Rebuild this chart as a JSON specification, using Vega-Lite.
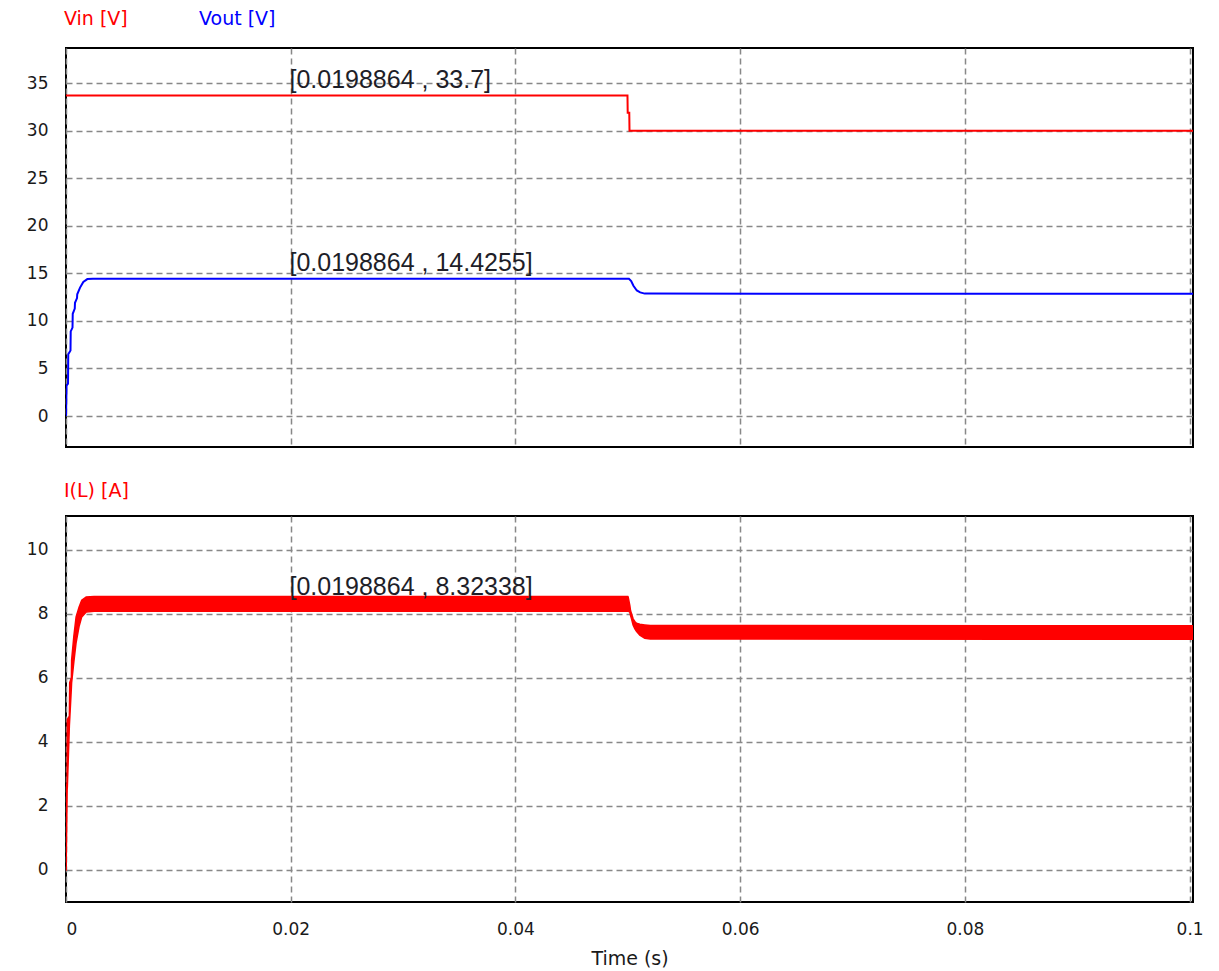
{
  "$schema": "https://vega.github.io/schema/vega-lite/v6.json",
  "background": "white",
  "padding": {"left": 25, "top": 8, "right": 10, "bottom": 5},
  "spacing": 32,
  "config": {
    "view": {"stroke": "#000000", "strokeWidth": 2},
    "font": "DejaVu Sans",
    "axis": {
      "domain": false,
      "ticks": false,
      "grid": true,
      "gridColor": "#888888",
      "gridDash": [6, 4],
      "gridWidth": 1.5,
      "labelFont": "DejaVu Sans",
      "labelFontSize": 17,
      "labelColor": "#1a1a1a",
      "titleFont": "DejaVu Sans",
      "titleFontSize": 19,
      "titleFontWeight": "normal",
      "titleColor": "#1a1a1a"
    },
    "legend": {
      "orient": "top",
      "direction": "horizontal",
      "title": null,
      "symbolOpacity": 0,
      "symbolSize": 0,
      "symbolStrokeWidth": 0,
      "labelFont": "DejaVu Sans",
      "labelFontSize": 19,
      "labelOffset": -21,
      "columnPadding": 71,
      "offset": 19,
      "padding": 0,
      "labelColor": {"expr": "datum.label == 'Vout [V]' ? '#0000ff' : '#ff0000'"}
    }
  },
  "resolve": {"scale": {"color": "independent", "y": "independent"}, "legend": {"color": "independent"}},
  "vconcat": [
    {
      "width": 1127,
      "height": 399,
      "layer": [
        {
          "data": {
            "values": [
              {"s": "Vin [V]", "t": 0, "v": 33.7},
              {"s": "Vin [V]", "t": 0.04997, "v": 33.7},
              {"s": "Vin [V]", "t": 0.04999, "v": 31.9},
              {"s": "Vin [V]", "t": 0.05013, "v": 31.9},
              {"s": "Vin [V]", "t": 0.05015, "v": 30.0},
              {"s": "Vin [V]", "t": 0.1003, "v": 30.0},
              {"s": "Vout [V]", "t": 0, "v": 0},
              {"s": "Vout [V]", "t": 0.00005, "v": 3.2},
              {"s": "Vout [V]", "t": 0.00018, "v": 3.4},
              {"s": "Vout [V]", "t": 0.0002, "v": 6.5},
              {"s": "Vout [V]", "t": 0.0004, "v": 6.9},
              {"s": "Vout [V]", "t": 0.00042, "v": 8.9},
              {"s": "Vout [V]", "t": 0.00058, "v": 9.3},
              {"s": "Vout [V]", "t": 0.0006, "v": 10.75},
              {"s": "Vout [V]", "t": 0.00078, "v": 11.3},
              {"s": "Vout [V]", "t": 0.0008, "v": 11.9},
              {"s": "Vout [V]", "t": 0.00098, "v": 12.4},
              {"s": "Vout [V]", "t": 0.001, "v": 12.8},
              {"s": "Vout [V]", "t": 0.00125, "v": 13.5},
              {"s": "Vout [V]", "t": 0.00154, "v": 14.1},
              {"s": "Vout [V]", "t": 0.0019, "v": 14.4},
              {"s": "Vout [V]", "t": 0.0024, "v": 14.43},
              {"s": "Vout [V]", "t": 0.0501, "v": 14.43},
              {"s": "Vout [V]", "t": 0.0503, "v": 14.2},
              {"s": "Vout [V]", "t": 0.0505, "v": 13.7},
              {"s": "Vout [V]", "t": 0.0508, "v": 13.2},
              {"s": "Vout [V]", "t": 0.0511, "v": 13.0},
              {"s": "Vout [V]", "t": 0.0515, "v": 12.87},
              {"s": "Vout [V]", "t": 0.1003, "v": 12.85}
            ]
          },
          "mark": {"type": "line", "strokeWidth": 2, "clip": true},
          "encoding": {
            "x": {
              "field": "t", "type": "quantitative",
              "scale": {"domain": [0, 0.1003], "nice": false, "zero": false},
              "axis": {"values": [0, 0.02, 0.04, 0.06, 0.08, 0.1], "labels": false, "title": null}
            },
            "y": {
              "field": "v", "type": "quantitative",
              "scale": {"domain": [-3.26, 38.7], "nice": false, "zero": false},
              "axis": {"values": [0, 5, 10, 15, 20, 25, 30, 35], "title": null, "labelPadding": 18}
            },
            "color": {
              "field": "s", "type": "nominal",
              "scale": {"domain": ["Vin [V]", "Vout [V]"], "range": ["#ff0000", "#0000ff"]}
            }
          }
        },
        {
          "data": {
            "values": [
              {"t": 0.0198864, "v": 33.7, "label": "[0.0198864 , 33.7]"},
              {"t": 0.0198864, "v": 14.4255, "label": "[0.0198864 , 14.4255]"}
            ]
          },
          "mark": {"type": "text", "align": "left", "baseline": "alphabetic", "dy": -8, "font": "Liberation Sans", "fontSize": 25, "fill": "#1e1e28"},
          "encoding": {
            "x": {"field": "t", "type": "quantitative"},
            "y": {"field": "v", "type": "quantitative"},
            "text": {"field": "label"}
          }
        }
      ]
    },
    {
      "width": 1127,
      "height": 386,
      "layer": [
        {
          "data": {
            "values": [
              {"s": "I(L) [A]", "t": 0, "hi": 0, "lo": 0},
              {"s": "I(L) [A]", "t": 0.00001, "hi": 2.65, "lo": 0},
              {"s": "I(L) [A]", "t": 0.0001, "hi": 2.7, "lo": 2.5},
              {"s": "I(L) [A]", "t": 0.00012, "hi": 4.7, "lo": 2.6},
              {"s": "I(L) [A]", "t": 0.0003, "hi": 4.8, "lo": 4.5},
              {"s": "I(L) [A]", "t": 0.00033, "hi": 5.85, "lo": 4.7},
              {"s": "I(L) [A]", "t": 0.00048, "hi": 6.0, "lo": 5.7},
              {"s": "I(L) [A]", "t": 0.0005, "hi": 6.55, "lo": 5.85},
              {"s": "I(L) [A]", "t": 0.0007, "hi": 7.3, "lo": 6.5},
              {"s": "I(L) [A]", "t": 0.0009, "hi": 7.9, "lo": 7.1},
              {"s": "I(L) [A]", "t": 0.00116, "hi": 8.2, "lo": 7.6},
              {"s": "I(L) [A]", "t": 0.0014, "hi": 8.42, "lo": 7.9},
              {"s": "I(L) [A]", "t": 0.0018, "hi": 8.52, "lo": 8.05},
              {"s": "I(L) [A]", "t": 0.0025, "hi": 8.54, "lo": 8.08},
              {"s": "I(L) [A]", "t": 0.05, "hi": 8.54, "lo": 8.08},
              {"s": "I(L) [A]", "t": 0.05003, "hi": 8.52, "lo": 8.08},
              {"s": "I(L) [A]", "t": 0.05018, "hi": 8.25, "lo": 8.05},
              {"s": "I(L) [A]", "t": 0.05024, "hi": 8.1, "lo": 7.95},
              {"s": "I(L) [A]", "t": 0.05033, "hi": 8.0, "lo": 7.84},
              {"s": "I(L) [A]", "t": 0.05047, "hi": 7.84, "lo": 7.65},
              {"s": "I(L) [A]", "t": 0.05062, "hi": 7.76, "lo": 7.53},
              {"s": "I(L) [A]", "t": 0.05077, "hi": 7.7, "lo": 7.45},
              {"s": "I(L) [A]", "t": 0.05107, "hi": 7.67, "lo": 7.33},
              {"s": "I(L) [A]", "t": 0.05151, "hi": 7.65, "lo": 7.23},
              {"s": "I(L) [A]", "t": 0.052, "hi": 7.63, "lo": 7.21},
              {"s": "I(L) [A]", "t": 0.1003, "hi": 7.62, "lo": 7.2}
            ]
          },
          "mark": {"type": "area", "clip": true, "stroke": "#ff0000", "strokeWidth": 1.5},
          "encoding": {
            "x": {
              "field": "t", "type": "quantitative",
              "scale": {"domain": [0, 0.1003], "nice": false, "zero": false},
              "axis": {"values": [0, 0.02, 0.04, 0.06, 0.08, 0.1], "format": "~g", "title": "Time (s)", "labelPadding": 19, "titlePadding": 12}
            },
            "y": {
              "field": "hi", "type": "quantitative",
              "scale": {"domain": [-1.0, 11.05], "nice": false, "zero": false},
              "axis": {"values": [0, 2, 4, 6, 8, 10], "title": null, "labelPadding": 18}
            },
            "y2": {"field": "lo"},
            "color": {
              "field": "s", "type": "nominal",
              "scale": {"domain": ["I(L) [A]"], "range": ["#ff0000"]},
              "legend": {"offset": 15}
            }
          }
        },
        {
          "data": {
            "values": [
              {"t": 0.0198864, "hi": 8.32338, "label": "[0.0198864 , 8.32338]"}
            ]
          },
          "mark": {"type": "text", "align": "left", "baseline": "alphabetic", "dy": -8, "font": "Liberation Sans", "fontSize": 25, "fill": "#1e1e28"},
          "encoding": {
            "x": {"field": "t", "type": "quantitative"},
            "y": {"field": "hi", "type": "quantitative"},
            "text": {"field": "label"}
          }
        }
      ]
    }
  ]
}
